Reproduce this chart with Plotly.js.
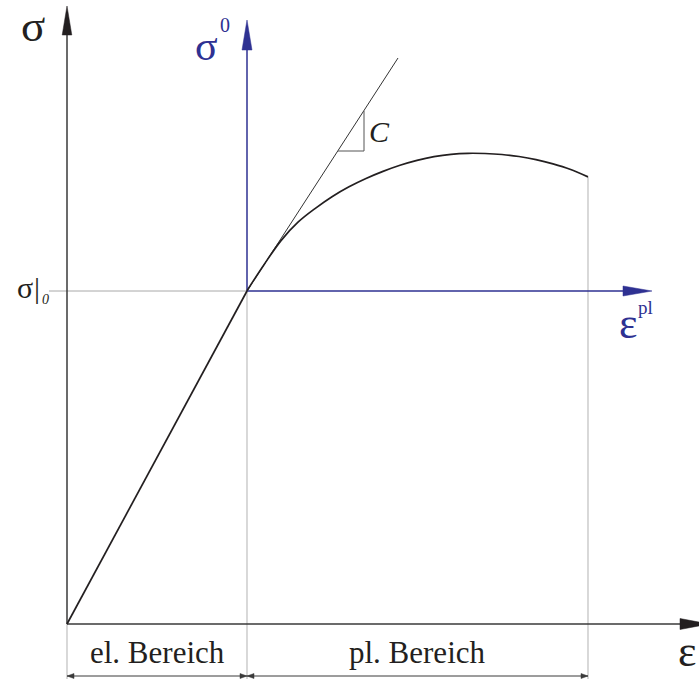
<!DOCTYPE html>
<html>
<head>
<meta charset="utf-8">
<script src="https://cdn.plot.ly/plotly-3.0.1.min.js"></script>
<style>
  html, body { margin: 0; padding: 0; background: #ffffff; }
  #chart { width: 699px; height: 679px; }
</style>
</head>
<body>
<div id="chart"></div>
<script>
// Schematic stress–strain diagram: elastic range, yield point σ|0,
// plastic hardening curve σ0(εpl) and hardening modulus C.

// Elastic branch (ε, σ)
const elasticEps = [0, 180];
const elasticSig = [0, 333];

// Plastic branch, starting at the yield point
const plasticEps = [180, 197, 214, 231, 248, 265, 282, 299, 316, 333, 350, 367, 384, 401, 418, 435, 452, 469, 486, 503, 521];
const plasticSig = [333.3, 359.3, 383.4, 401.8, 415.4, 427.3, 437.2, 445.5, 452.6, 458.7, 463.6, 467.3, 469.7, 470.7, 470.5, 469.5, 467.5, 464.4, 460.1, 454.7, 447.1];

// Initial tangent of the plastic branch (slope C)
const tangentEps = [180, 331];
const tangentSig = [333, 566];

// Slope triangle for C
const slopeTriEps = [271, 297, 297];
const slopeTriSig = [473, 473, 513];

// Main axes (ε, σ)
const mainAxisY = { eps: [0, 0], sig: [0, 618] };
const mainAxisX = { eps: [0, 613], sig: [0, 0] };

// Shifted axes σ0 / εpl at the yield point
const plAxisY = { eps: [180, 180], sig: [333, 574] };
const plAxisX = { eps: [180, 556], sig: [333, 333] };

// Guide lines
const yieldGuide = { eps: [-18, 180], sig: [333, 333] };
const dropLineEps = [0, 180, 521];
const dropLineTopSig = [0, 333, 447];
const bottomSig = -55;

// Range dimensions
const rangeBounds = [0, 180, 521];
const rangeLabels = ['el. Bereich', 'pl. Bereich'];
const dimSig = -52;

const black = '#231f20';
const blue = '#2e3192';
const grey = '#c4c4c4';
const serif = 'Liberation Serif, Times New Roman, serif';

// Filled arrow head at the end of a segment
function arrowHead(x0, y0, x1, y1, len, halfW) {
  const dx = x1 - x0, dy = y1 - y0;
  const L = Math.hypot(dx, dy);
  const ux = dx / L, uy = dy / L;
  const bx = x1 - ux * len, by = y1 - uy * len;
  return {
    x: [x1, bx - uy * halfW, bx + uy * halfW, x1],
    y: [y1, by + ux * halfW, by - ux * halfW, y1]
  };
}

function lineTrace(x, y, color, width, extra) {
  return Object.assign({
    type: 'scatter', mode: 'lines', x: x, y: y,
    line: { color: color, width: width },
    hoverinfo: 'skip'
  }, extra || {});
}

function headTrace(h, color) {
  return {
    type: 'scatter', mode: 'lines', x: h.x, y: h.y,
    fill: 'toself', fillcolor: color,
    line: { color: color, width: 0.5 }, hoverinfo: 'skip'
  };
}

const traces = [];

// guides
traces.push(lineTrace(yieldGuide.eps, yieldGuide.sig, '#a8a8a8', 1));
dropLineEps.forEach((e, i) => {
  traces.push(lineTrace([e, e], [dropLineTopSig[i], bottomSig], grey, 1.3));
});

// shifted axes
traces.push(lineTrace(plAxisY.eps, plAxisY.sig, blue, 1.5));
traces.push(lineTrace(plAxisX.eps, plAxisX.sig, blue, 1.5));
traces.push(headTrace(arrowHead(plAxisY.eps[0], plAxisY.sig[0], plAxisY.eps[1], plAxisY.sig[1] + 30, 30, 5), blue));
traces.push(headTrace(arrowHead(plAxisX.eps[0], plAxisX.sig[0], plAxisX.eps[1] + 29, plAxisX.sig[1], 29, 5), blue));

// main axes
traces.push(lineTrace(mainAxisY.eps, mainAxisY.sig.map((s, i) => i ? s - 28 : s), '#3a3a3a', 1.5));
traces.push(lineTrace(mainAxisX.eps, mainAxisX.sig, '#3a3a3a', 1.5));
traces.push(headTrace(arrowHead(mainAxisY.eps[0], mainAxisY.sig[0], mainAxisY.eps[1], mainAxisY.sig[1], 29, 4.8), black));
traces.push(headTrace(arrowHead(mainAxisX.eps[0], mainAxisX.sig[0], mainAxisX.eps[1] + 29, mainAxisX.sig[1], 29, 5.5), black));

// tangent and slope triangle
traces.push(lineTrace(tangentEps, tangentSig, '#333333', 1));
traces.push(lineTrace(slopeTriEps, slopeTriSig, '#555555', 1));

// material curve
traces.push(lineTrace(elasticEps, elasticSig, black, 1.7));
traces.push(lineTrace(plasticEps, plasticSig, black, 1.7, { line: { color: black, width: 1.7, shape: 'spline', smoothing: 1 } }));

// range dimensions
for (let i = 0; i < rangeBounds.length - 1; i++) {
  const a = rangeBounds[i], b = rangeBounds[i + 1];
  traces.push(lineTrace([a, b], [dimSig, dimSig], '#3a3a3a', 1));
  traces.push(headTrace(arrowHead(b, dimSig, a, dimSig, 7, 2.5), '#3a3a3a'));
  traces.push(headTrace(arrowHead(a, dimSig, b, dimSig, 7, 2.5), '#3a3a3a'));
}

function label(x, y, text, size, color, extra) {
  return Object.assign({
    xref: 'x', yref: 'y', x: x, y: y, text: text, showarrow: false,
    xanchor: 'center', yanchor: 'middle',
    font: { family: serif, size: size, color: color }
  }, extra || {});
}

const annotations = [
  label(-34, 598, 'σ', 45, black),
  label(-42, 337, 'σ', 30, black),
  label(-30, 337, '|', 30, black),
  label(-22, 325, '<i>0</i>', 14, black),
  label(139, 578, 'σ', 42, blue),
  label(158, 599, '0', 20, blue),
  label(312, 493, '<i>C</i>', 30, black),
  label(561, 301, 'ε', 44, blue),
  label(578, 317, 'pl', 19, blue),
  label(620, -27, 'ε', 44, black),
  label((rangeBounds[0] + rangeBounds[1]) / 2, -28, rangeLabels[0], 31, black),
  label((rangeBounds[1] + rangeBounds[2]) / 2, -28, rangeLabels[1], 31, black)
];

const layout = {
  width: 699, height: 679,
  margin: { l: 0, r: 0, t: 0, b: 0 },
  paper_bgcolor: '#ffffff', plot_bgcolor: '#ffffff',
  showlegend: false,
  xaxis: { range: [-67, 632], visible: false, fixedrange: true },
  yaxis: { range: [-55, 624], visible: false, fixedrange: true },
  annotations: annotations
};

Plotly.newPlot('chart', traces, layout, { staticPlot: true, displayModeBar: false });
</script>
</body>
</html>
